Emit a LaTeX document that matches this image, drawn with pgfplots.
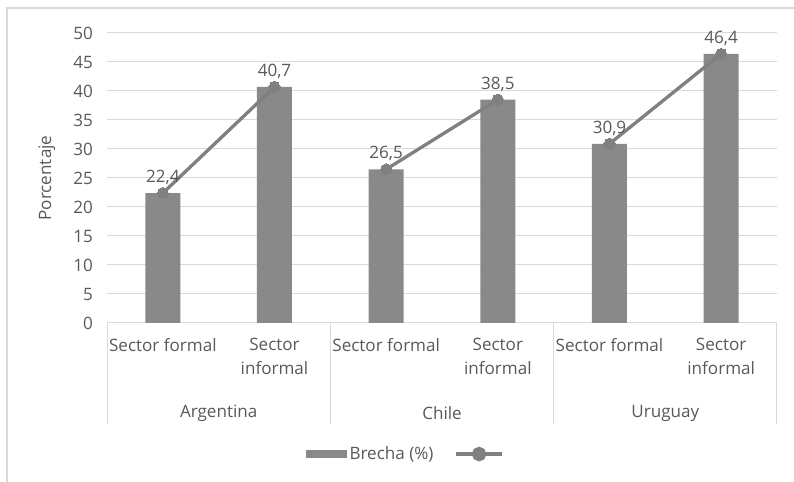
\documentclass[border=0pt]{standalone}
\usepackage{pgfplots}
\pgfplotsset{compat=1.18}
\usepackage{fontspec}
\setmainfont{Open Sans}
\definecolor{txt}{HTML}{595959}
\definecolor{barc}{HTML}{898989}
\definecolor{linec}{HTML}{808080}
\definecolor{gridc}{HTML}{D9D9D9}
\newcommand{\ff}{\fontsize{12.8}{18}\selectfont}
\begin{document}
\begin{tikzpicture}[x=0.75pt,y=0.75pt]
\path[use as bounding box] (0,0) rectangle (794,482);
\draw[gridc, line width=1.5pt] (7,0) -- (7,474) -- (794,474);
\begin{axis}[
  at={(80.25pt,119.25pt)}, anchor=south west,
  scale only axis, width=502.5pt, height=217.5pt,
  xmin=-0.5, xmax=5.5, ymin=0, ymax=50,
  ytick={0,5,...,50},
  xtick={0,1,2,3,4,5},
  xticklabels={Sector formal, Sector\\informal, Sector formal, Sector\\informal, Sector formal, Sector\\informal},
  xticklabel style={align=center, anchor=north, yshift=-8pt},
  yticklabel style={xshift=-7pt},
  major tick length=0pt,
  axis line style={draw=none},
  ymajorgrids, grid style={gridc, line width=0.75pt},
  tick label style={font=\ff, text=txt},
  /pgf/number format/assume math mode=true,
  ylabel={Porcentaje},
  every axis y label/.style={at={(axis description cs:-0.0896,0.5)}, rotate=90, anchor=center, font=\ff, text=txt},
  clip=false,
  legend style={at={(0.448,-0.452)}, anchor=center, draw=none, fill=none, legend columns=2,
    font=\ff, text=txt,
    /tikz/every even column/.append style={column sep=14pt}},
  legend cell align=left,
]
\addplot[ybar, fill=barc, draw=none, bar width=26.25pt,
  legend image code/.code={\fill[barc] (0pt,-3pt) rectangle (31pt,3pt);}]
  coordinates {(0,22.4) (1,40.7) (2,26.5) (3,38.5) (4,30.9) (5,46.4)};
\addlegendentry{Brecha (\%)}
\pgfplotsset{linesty/.style={linec, line width=2.5pt, mark=*, mark size=4.2pt,
  mark options={fill=linec, draw=linec, line width=0pt},
  nodes near coords,
  nodes near coords style={font=\ff, text=txt, anchor=south, yshift=3pt,
     /pgf/number format/.cd, fixed, fixed zerofill, precision=1, use comma, assume math mode=true},
  legend image code/.code={\draw[linec,line width=2.5pt] (0pt,0pt) -- (34pt,0pt); \fill[linec] (17pt,0pt) circle (4.2pt);}}}
\addplot[linesty] coordinates {(0,22.4) (1,40.7)};
\addlegendentry{}
\addplot[linesty, forget plot] coordinates {(2,26.5) (3,38.5)};
\addplot[linesty, forget plot] coordinates {(4,30.9) (5,46.4)};
\foreach \xx in {-0.5,1.5,3.5,5.5} {
  \edef\tmp{\noexpand\draw[gridc, line width=0.75pt] (axis cs:\xx,0) -- (axis cs:\xx,-17.4);}\tmp
}
\node[text=txt, font=\ff] at (axis cs:0.5,-15.6) {Argentina};
\node[text=txt, font=\ff] at (axis cs:2.5,-15.6) {Chile};
\node[text=txt, font=\ff] at (axis cs:4.5,-15.6) {Uruguay};
\end{axis}
\end{tikzpicture}
\end{document}
